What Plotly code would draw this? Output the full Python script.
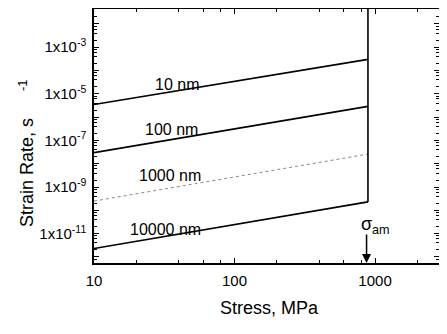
import numpy as np
import plotly.graph_objects as go

# data
stress_ends = [10, 890]                  # MPa
grain_sizes = ["10 nm", "100 nm", "1000 nm", "10000 nm"]
rate_10nm = [3.5e-6, 3.0e-4]
rate_100nm = [3.0e-8, 2.9e-6]
rate_1000nm = [2.5e-10, 2.6e-8]
rate_10000nm = [2.3e-12, 2.3e-10]
sigma_am = 890
sigma_arrow = 870

x_tick_vals = [10, 100, 1000]
x_tick_text = ["10", "100", "1000"]
y_tick_vals = [10.0 ** e for e in range(-12, -1)]
y_tick_text = ["" if e % 2 == 0 else "1x10<sup>%d</sup>" % e for e in range(-12, -1)]
x_minor = [m * 10.0 ** d for d in (1, 2, 3) for m in (2, 4, 6, 8) if m * 10.0 ** d < 2900]
y_minor = [m * 10.0 ** d for d in range(-13, -1) for m in (2, 4, 6, 8)]

label_pos = {  # (stress, rate) label anchor in data units
    "10 nm": (38.9, 2.6e-5),
    "100 nm": (35.8, 3.0e-7),
    "1000 nm": (34.7, 3.2e-9),
    "10000 nm": (32.5, 1.55e-11),
}

FONT = "Arial, 'Liberation Sans', sans-serif"
OFF = 8                      # page body margin
W, H = 447 - OFF, 334 - OFF
L, R, T, B = 94 - OFF, 8, 1, 71
PW, PH = W - L - R, H - T - B


def page_to_paper(px, py):
    return (px - OFF - L) / PW, 1 - (py - OFF - T) / PH


CENTER = dict(xanchor="center", yanchor="middle")
fig = go.Figure()
series = [rate_10nm, rate_100nm, rate_1000nm, rate_10000nm]
for name, vals in zip(grain_sizes, series):
    dotted = name == "1000 nm"
    fig.add_trace(go.Scatter(
        x=stress_ends, y=vals, mode="lines", name=name,
        line=dict(color="#888888" if dotted else "black",
                  width=1 if dotted else 1.6,
                  dash="dot" if dotted else "solid"),
        showlegend=False))
    lx, ly = label_pos[name]
    fig.add_annotation(x=np.log10(lx), y=np.log10(ly), text=name, showarrow=False,
                       font=dict(size=16, family=FONT, color="black"), **CENTER)

# vertical sigma_am line
fig.add_trace(go.Scatter(x=[sigma_am, sigma_am], y=[rate_10000nm[1], 1.0], mode="lines",
                         line=dict(color="black", width=1.6), showlegend=False))

fig.add_annotation(x=np.log10(sigma_arrow), y=0, yref="paper", ax=0, ay=-30,
                   showarrow=True, arrowhead=2, arrowsize=1.2, arrowwidth=1.5,
                   arrowcolor="black", text="")
tx, ty = page_to_paper(375, 225)
fig.add_annotation(x=tx, y=ty, xref="paper", yref="paper",
                   text="σ<sub>am</sub>", showarrow=False,
                   font=dict(size=18, family=FONT, color="black"), **CENTER)

# axis titles
tx, ty = page_to_paper(27, 173)
fig.add_annotation(x=tx, y=ty, xref="paper", yref="paper", text="Strain Rate, s",
                   showarrow=False, textangle=-90,
                   font=dict(size=18, family=FONT, color="black"), **CENTER)
tx, ty = page_to_paper(22, 85)
fig.add_annotation(x=tx, y=ty, xref="paper", yref="paper", text="-1", showarrow=False,
                   textangle=-90, font=dict(size=13, family=FONT, color="black"), **CENTER)
tx, ty = page_to_paper(269, 308)
fig.add_annotation(x=tx, y=ty, xref="paper", yref="paper", text="Stress, MPa",
                   showarrow=False, font=dict(size=18, family=FONT, color="black"), **CENTER)

axis_common = dict(type="log", showline=True, linecolor="black", linewidth=1.5,
                   mirror="allticks", ticks="inside", ticklen=5, tickwidth=1.3,
                   tickcolor="black", showgrid=False, zeroline=False, automargin=False,
                   tickfont=dict(size=15, family=FONT, color="black"))
fig.update_xaxes(**axis_common, range=[1, 3.455], tickmode="array",
                 tickvals=x_tick_vals, ticktext=x_tick_text, ticklabelstandoff=3,
                 minor=dict(ticks="inside", ticklen=3, tickwidth=1, tickcolor="black",
                            tickmode="array", tickvals=x_minor))
fig.update_yaxes(**axis_common, range=[-12.26, -1.36], tickmode="array",
                 tickvals=y_tick_vals, ticktext=y_tick_text, ticklabelstandoff=3,
                 minor=dict(ticks="inside", ticklen=3, tickwidth=1, tickcolor="black",
                            tickmode="array", tickvals=y_minor))

fig.update_layout(width=W, height=H, margin=dict(l=L, r=R, t=T, b=B, autoexpand=False),
                  plot_bgcolor="white", paper_bgcolor="white")
fig.write_html("out.html")
